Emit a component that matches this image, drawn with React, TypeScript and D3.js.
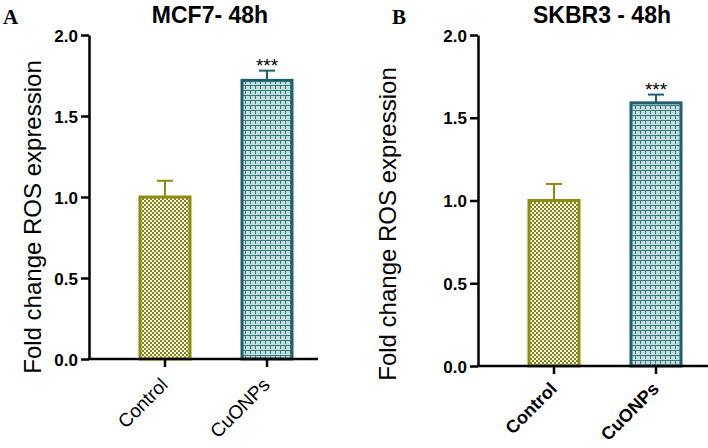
import React, { useEffect, useRef } from 'react'
import * as d3 from 'd3'

const groups = ['Control', 'CuONPs']
const mcf7Means = [1.0, 1.72]
const mcf7Errors = [0.1, 0.06]
const skbr3Means = [1.0, 1.59]
const skbr3Errors = [0.1, 0.05]
const yTicks = [0, 0.5, 1.0, 1.5, 2.0]
const stars = ['', '***']

const strokeColors = ['#8c8c12', '#1f5f6e']
const fills = ['url(#checks)', 'url(#weave)']

// one panel of the figure
function drawPanel(svg, opt) {
  const y = d3.scaleLinear().domain([0, 2]).range([opt.y0, opt.y1])
  const x = d3.scalePoint().domain(groups).range(opt.xr)
  const barW = 50
  const g = svg.append('g')

  g.append('text')
    .attr('x', opt.letterX).attr('y', 24)
    .attr('font-family', 'Liberation Serif, serif').attr('font-weight', 'bold')
    .attr('font-size', 21).text(opt.letter)

  g.append('text')
    .attr('x', opt.titleX).attr('y', 23).attr('text-anchor', 'middle')
    .attr('font-family', 'Liberation Sans, Arial, sans-serif').attr('font-weight', 'bold')
    .attr('font-size', 23).text(opt.title)

  g.append('text')
    .attr('transform', 'translate(' + opt.ylabX + ',' + opt.ylabY + ') rotate(-90)')
    .attr('text-anchor', 'middle')
    .attr('font-family', 'Liberation Sans, Arial, sans-serif')
    .attr('font-size', 24).text('Fold change ROS expression')

  // bars
  g.selectAll('rect.bar')
    .data(opt.means)
    .enter()
    .append('rect')
    .attr('x', (d, i) => x(groups[i]) - barW / 2)
    .attr('y', d => y(d))
    .attr('width', barW)
    .attr('height', d => y(0) - y(d))
    .attr('fill', (d, i) => fills[i])
    .attr('stroke', (d, i) => strokeColors[i])
    .attr('stroke-width', 3)

  // error bars (upper only)
  opt.means.forEach((m, i) => {
    const cx = x(groups[i])
    const top = y(m + opt.errors[i])
    g.append('line').attr('x1', cx).attr('x2', cx).attr('y1', y(m)).attr('y2', top)
      .attr('stroke', strokeColors[i]).attr('stroke-width', 2)
    g.append('line').attr('x1', cx - 8).attr('x2', cx + 8).attr('y1', top).attr('y2', top)
      .attr('stroke', strokeColors[i]).attr('stroke-width', 2)
    if (stars[i]) {
      g.append('text').attr('x', cx).attr('y', top + 1).attr('text-anchor', 'middle')
        .attr('font-family', 'Liberation Sans, Arial, sans-serif').attr('font-size', 19)
        .text(stars[i])
    }
  })

  // y axis
  const yAxis = d3.axisLeft(y).tickValues(yTicks).tickFormat(d3.format('.1f')).tickSize(8).tickSizeOuter(0)
  const ya = g.append('g').attr('transform', 'translate(' + opt.axisX + ',0)').call(yAxis)
  ya.select('.domain').attr('stroke-width', 2.5)
  ya.selectAll('.tick line').attr('stroke-width', 2.5)
  ya.selectAll('.tick text')
    .attr('font-family', 'Liberation Sans, Arial, sans-serif').attr('font-weight', 'bold')
    .attr('font-size', 17).attr('dy', '0.36em').attr('x', -11)

  // x axis
  g.append('line').attr('x1', opt.axisX - 1).attr('x2', opt.xEnd)
    .attr('y1', y(0)).attr('y2', y(0)).attr('stroke', '#000').attr('stroke-width', 2.5)
  groups.forEach(gr => {
    const cx = x(gr)
    g.append('line').attr('x1', cx).attr('x2', cx).attr('y1', y(0)).attr('y2', y(0) + 8)
      .attr('stroke', '#000').attr('stroke-width', 2.5)
    g.append('text')
      .attr('transform', 'translate(' + (cx + 4) + ',' + (y(0) + opt.xlabDy) + ') rotate(-45)')
      .attr('text-anchor', 'end')
      .attr('font-family', 'Liberation Sans, Arial, sans-serif')
      .attr('font-weight', opt.boldX ? 'bold' : 'normal')
      .attr('font-size', opt.boldX ? 18 : 19).text(gr)
  })
}

function App() {
  const ref = useRef(null)

  useEffect(() => {
    const svg = d3.select(ref.current)
    svg.selectAll('*').remove()
    const defs = svg.append('defs')

    const p1 = defs.append('pattern').attr('id', 'checks').attr('patternUnits', 'userSpaceOnUse')
      .attr('width', 4).attr('height', 4)
    p1.append('rect').attr('width', 4).attr('height', 4).attr('fill', '#f6f6e6')
    p1.append('rect').attr('width', 2).attr('height', 2).attr('fill', '#85851a')
    p1.append('rect').attr('x', 2).attr('y', 2).attr('width', 2).attr('height', 2).attr('fill', '#85851a')

    const p2 = defs.append('pattern').attr('id', 'weave').attr('patternUnits', 'userSpaceOnUse')
      .attr('width', 5).attr('height', 5)
    p2.append('rect').attr('width', 5).attr('height', 5).attr('fill', '#c4dddd')
    p2.append('path').attr('d', 'M0 0h5v1h-4v3h-1z').attr('fill', '#3a7880')

    drawPanel(svg, {
      letter: 'A', letterX: 3, title: 'MCF7- 48h', titleX: 210, ylabX: 41, ylabY: 217,
      means: mcf7Means, errors: mcf7Errors, xlabDy: 27,
      y0: 359, y1: 35, xr: [165, 267], axisX: 89, xEnd: 318, boldX: false,
    })
    drawPanel(svg, {
      letter: 'B', letterX: 392, title: 'SKBR3 - 48h', titleX: 602, ylabX: 396, ylabY: 224,
      means: skbr3Means, errors: skbr3Errors, xlabDy: 24,
      y0: 366, y1: 35, xr: [554, 656], axisX: 478, xEnd: 708, boldX: true,
    })
  }, [])

  return (
    <svg ref={ref} width={708} height={448}
      style={{ position: 'absolute', left: 0, top: 0, background: '#fff' }} />
  )
}

export default App
